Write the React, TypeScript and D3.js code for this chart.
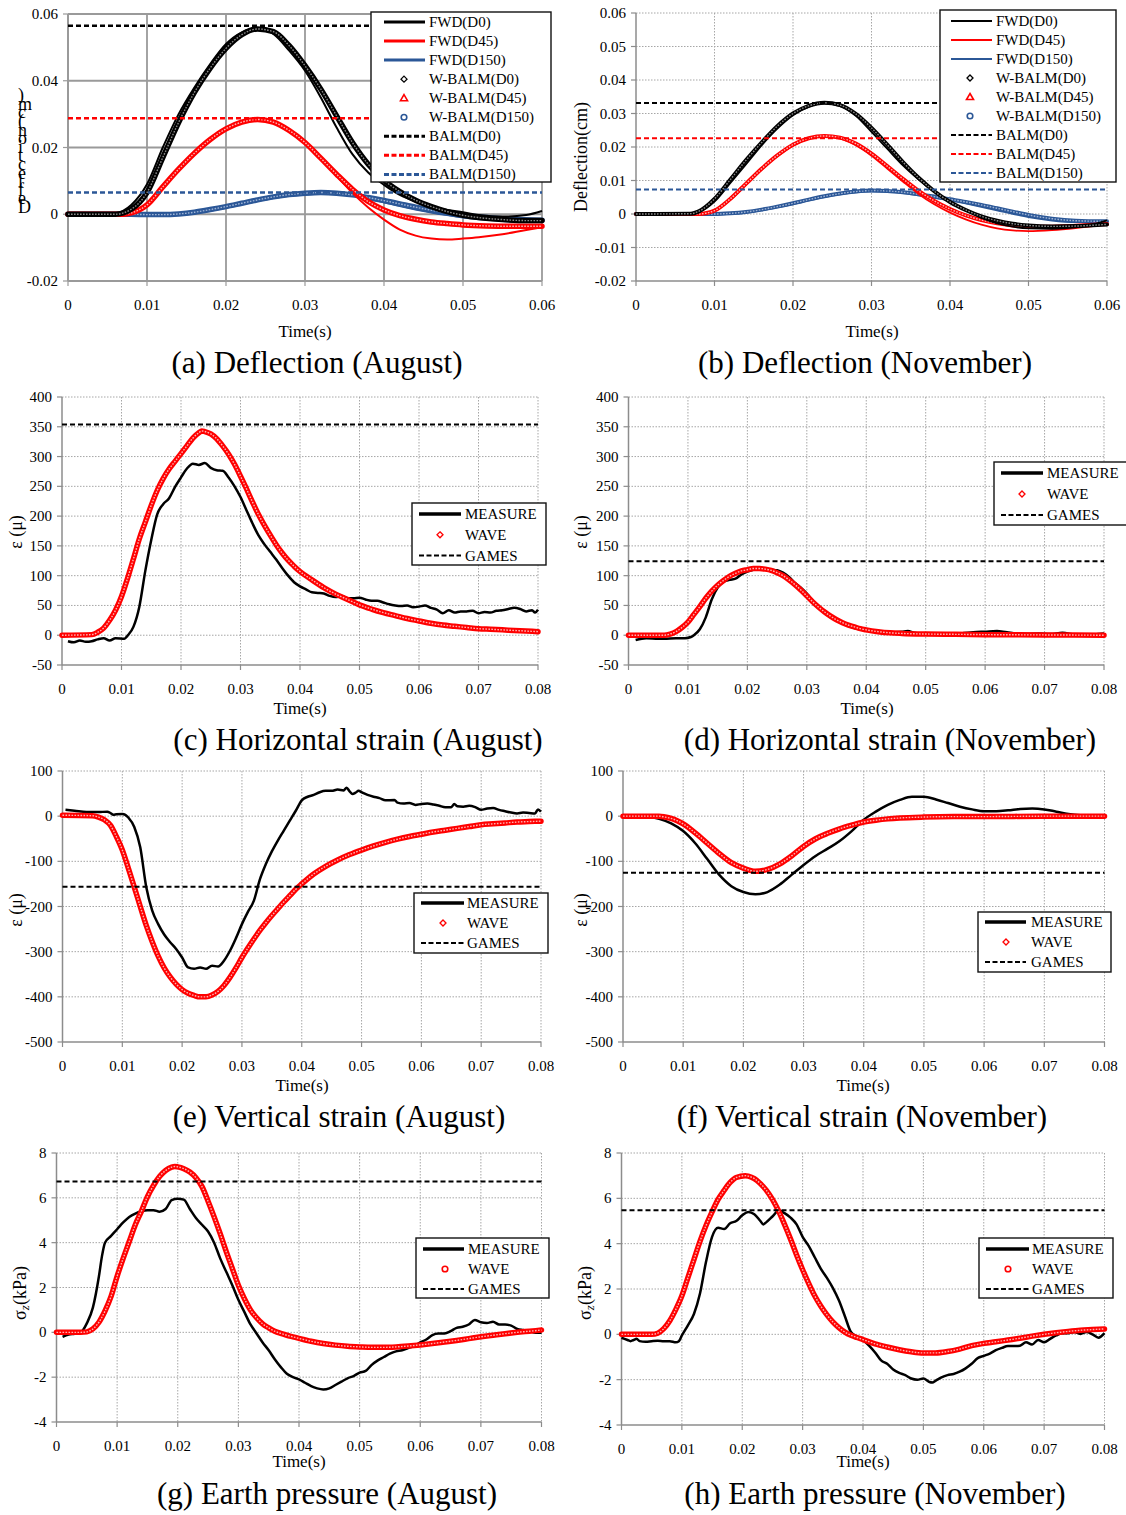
import * as d3 from 'd3';
import React from 'react';

type Pt = [number, number];

const FONT = '"Liberation Serif", "Times New Roman", serif';
const RED = '#ff0000';
const BLUE = '#2b5797';
const GRID = '#a6a6a6';

// ---- (a) deflection, August (cm) ----
const aFwdD0: Pt[] = [[0,0],[0.004,0],[0.006,0.0003],[0.008,0.0028],[0.01,0.009],[0.012,0.02],[0.014,0.03],[0.016,0.038],[0.018,0.045],[0.02,0.051],[0.022,0.0545],[0.0235,0.0556],[0.025,0.0553],[0.026,0.054],[0.028,0.049],[0.03,0.043],[0.032,0.035],[0.034,0.026],[0.036,0.018],[0.038,0.0125],[0.04,0.0088],[0.042,0.0058],[0.044,0.0038],[0.046,0.0023],[0.048,0.0013],[0.05,0.0006],[0.052,-0.0002],[0.055,-0.0007],[0.058,-0.0002],[0.06,0.001]];
const aWbD0: Pt[] = [[0,0],[0.006,0],[0.008,0.0015],[0.01,0.0065],[0.012,0.017],[0.014,0.0275],[0.016,0.0365],[0.018,0.0438],[0.02,0.0497],[0.022,0.0538],[0.024,0.0555],[0.026,0.0547],[0.028,0.0505],[0.03,0.0445],[0.032,0.0375],[0.034,0.0295],[0.036,0.0215],[0.038,0.015],[0.04,0.0102],[0.042,0.0068],[0.044,0.0042],[0.046,0.0023],[0.048,0.0008],[0.05,-0.0003],[0.052,-0.001],[0.055,-0.0016],[0.058,-0.0019],[0.06,-0.0019]];
const aFwdD45: Pt[] = [[0,0],[0.007,0],[0.008,0.0004],[0.01,0.0025],[0.012,0.0085],[0.014,0.0137],[0.016,0.0185],[0.018,0.0225],[0.02,0.0256],[0.022,0.0275],[0.024,0.0282],[0.026,0.0274],[0.028,0.0248],[0.03,0.0212],[0.032,0.0165],[0.034,0.0115],[0.036,0.0064],[0.038,0.002],[0.04,-0.0016],[0.042,-0.0046],[0.044,-0.0064],[0.046,-0.0073],[0.048,-0.0076],[0.05,-0.0073],[0.052,-0.0069],[0.055,-0.006],[0.058,-0.0047],[0.06,-0.0039]];
const aWbD45: Pt[] = [[0,0],[0.007,0],[0.008,0.0004],[0.01,0.0028],[0.012,0.0082],[0.014,0.0135],[0.016,0.0183],[0.018,0.0224],[0.02,0.0256],[0.022,0.0276],[0.024,0.0284],[0.026,0.0276],[0.028,0.0251],[0.03,0.0215],[0.032,0.0168],[0.034,0.012],[0.036,0.0075],[0.038,0.0038],[0.04,0.0013],[0.042,-0.0004],[0.044,-0.0015],[0.046,-0.0023],[0.048,-0.0028],[0.05,-0.0032],[0.053,-0.0035],[0.056,-0.0036],[0.06,-0.0036]];
const aFwdD150: Pt[] = [[0,0],[0.008,0],[0.01,-0.0001],[0.012,-0.0001],[0.014,0],[0.016,0.0004],[0.018,0.0012],[0.02,0.0021],[0.022,0.0031],[0.024,0.0041],[0.026,0.005],[0.028,0.0057],[0.03,0.0061],[0.032,0.0063],[0.034,0.0062],[0.036,0.0057],[0.038,0.0048],[0.04,0.0037],[0.042,0.0026],[0.044,0.0016],[0.046,0.0007],[0.048,-0.0001],[0.05,-0.0008],[0.053,-0.0015],[0.056,-0.002],[0.06,-0.0022]];
const aWbD150: Pt[] = [[0,0],[0.008,0],[0.01,-0.0001],[0.012,-0.0001],[0.014,0.0001],[0.016,0.0006],[0.018,0.0014],[0.02,0.0023],[0.022,0.0033],[0.024,0.0043],[0.026,0.0052],[0.028,0.0059],[0.03,0.0063],[0.032,0.0065],[0.034,0.0063],[0.036,0.0058],[0.038,0.005],[0.04,0.0041],[0.042,0.0031],[0.044,0.0021],[0.046,0.0012],[0.048,0.0004],[0.05,-0.0003],[0.053,-0.001],[0.056,-0.0015],[0.06,-0.0018]];
const aBalm = [0.0565, 0.0288, 0.0065];

// ---- (b) deflection, November (cm) ----
const bFwdD0: Pt[] = [[0,0],[0.007,0],[0.008,0.0005],[0.01,0.0037],[0.012,0.0092],[0.014,0.0148],[0.016,0.0205],[0.018,0.0255],[0.02,0.0295],[0.022,0.032],[0.024,0.033],[0.026,0.0322],[0.028,0.0293],[0.03,0.0245],[0.032,0.0195],[0.034,0.0145],[0.036,0.0103],[0.038,0.0066],[0.04,0.0035],[0.042,0.0011],[0.044,-0.0012],[0.046,-0.0028],[0.048,-0.0038],[0.05,-0.0043],[0.053,-0.0044],[0.056,-0.004],[0.058,-0.0032],[0.06,-0.0019]];
const bWbD0: Pt[] = [[0,0],[0.007,0.0001],[0.008,0.0008],[0.01,0.0045],[0.012,0.0102],[0.014,0.016],[0.016,0.0213],[0.018,0.0262],[0.02,0.03],[0.022,0.0323],[0.024,0.0332],[0.026,0.0325],[0.028,0.0299],[0.03,0.0257],[0.032,0.0207],[0.034,0.0155],[0.036,0.0108],[0.038,0.0068],[0.04,0.0036],[0.042,0.0012],[0.044,-0.0007],[0.046,-0.002],[0.048,-0.0029],[0.05,-0.0034],[0.053,-0.0037],[0.056,-0.0036],[0.06,-0.0031]];
const bFwdD45: Pt[] = [[0,0],[0.008,0],[0.009,0.0003],[0.01,0.0009],[0.012,0.0042],[0.014,0.0087],[0.016,0.0132],[0.018,0.0172],[0.02,0.0204],[0.022,0.0224],[0.024,0.0231],[0.026,0.0225],[0.028,0.0205],[0.03,0.0174],[0.032,0.0136],[0.034,0.0097],[0.036,0.006],[0.038,0.0029],[0.04,0.0004],[0.042,-0.0016],[0.044,-0.0032],[0.046,-0.0043],[0.048,-0.0049],[0.05,-0.0051],[0.053,-0.0048],[0.056,-0.0042],[0.06,-0.0031]];
const bWbD45: Pt[] = [[0,0],[0.008,0],[0.009,0.0003],[0.01,0.001],[0.012,0.0045],[0.014,0.009],[0.016,0.0135],[0.018,0.0175],[0.02,0.0207],[0.022,0.0226],[0.024,0.0233],[0.026,0.0228],[0.028,0.021],[0.03,0.018],[0.032,0.0143],[0.034,0.0105],[0.036,0.0069],[0.038,0.0039],[0.04,0.0015],[0.042,-0.0004],[0.044,-0.0018],[0.046,-0.0028],[0.048,-0.0034],[0.05,-0.0037],[0.053,-0.0038],[0.056,-0.0035],[0.06,-0.003]];
const bFwdD150: Pt[] = [[0,0],[0.01,0],[0.012,0.0002],[0.014,0.0005],[0.016,0.0012],[0.018,0.0021],[0.02,0.0031],[0.022,0.0042],[0.024,0.0052],[0.026,0.006],[0.028,0.0066],[0.03,0.0069],[0.032,0.0068],[0.034,0.0064],[0.036,0.0057],[0.038,0.005],[0.04,0.0042],[0.042,0.0033],[0.044,0.0023],[0.046,0.0012],[0.048,0.0002],[0.05,-0.0008],[0.053,-0.0018],[0.056,-0.0023],[0.06,-0.0024]];
const bWbD150: Pt[] = [[0,0],[0.01,0],[0.012,0.0002],[0.014,0.0006],[0.016,0.0013],[0.018,0.0022],[0.02,0.0032],[0.022,0.0043],[0.024,0.0053],[0.026,0.0061],[0.028,0.0067],[0.03,0.007],[0.032,0.0069],[0.034,0.0065],[0.036,0.0059],[0.038,0.0052],[0.04,0.0044],[0.042,0.0036],[0.044,0.0027],[0.046,0.0017],[0.048,0.0007],[0.05,-0.0003],[0.053,-0.0014],[0.056,-0.002],[0.06,-0.0022]];
const bBalm = [0.0331, 0.0226, 0.0073];

// ---- (c) horizontal strain, August ----
const cMeasure: Pt[] = [[0.001,-10],[0.002,-12],[0.003,-9],[0.004,-11],[0.005,-10],[0.006,-7],[0.007,-5],[0.008,-9],[0.009,-5],[0.0105,-6],[0.011,-1],[0.012,14],[0.013,48],[0.014,108],[0.015,160],[0.016,203],[0.017,220],[0.018,230],[0.019,249],[0.02,265],[0.021,280],[0.022,288],[0.023,286],[0.024,289],[0.025,281],[0.026,277],[0.027,276],[0.028,265],[0.029,250],[0.03,232],[0.031,210],[0.032,188],[0.033,168],[0.034,153],[0.035,140],[0.036,127],[0.037,113],[0.038,100],[0.039,89],[0.04,82],[0.041,77],[0.042,72],[0.043,71],[0.044,70],[0.045,66],[0.046,64],[0.047,66],[0.048,62],[0.049,62],[0.05,63],[0.051,60],[0.052,58],[0.053,58],[0.054,55],[0.055,52],[0.056,50],[0.057,49],[0.058,50],[0.059,47],[0.06,48],[0.061,50],[0.062,46],[0.063,43],[0.064,37],[0.065,42],[0.066,38],[0.067,40],[0.068,40],[0.069,41],[0.07,37],[0.071,39],[0.072,38],[0.073,41],[0.074,42],[0.075,44],[0.076,46],[0.077,44],[0.078,40],[0.079,42],[0.0795,38],[0.08,43]];
const cWave: Pt[] = [[0,0],[0.005,1],[0.006,5],[0.007,12],[0.008,25],[0.009,42],[0.01,65],[0.011,95],[0.012,128],[0.013,162],[0.014,190],[0.015,218],[0.016,243],[0.017,263],[0.018,279],[0.019,292],[0.02,305],[0.021,318],[0.022,331],[0.023,340],[0.0235,343],[0.024,342],[0.025,338],[0.026,330],[0.027,318],[0.028,304],[0.029,287],[0.03,267],[0.031,246],[0.032,224],[0.033,203],[0.034,185],[0.035,168],[0.036,152],[0.037,138],[0.038,126],[0.039,116],[0.04,107],[0.042,93],[0.044,80],[0.046,69],[0.048,60],[0.05,51],[0.052,44],[0.054,38],[0.056,33],[0.058,28],[0.06,24],[0.062,20],[0.064,17],[0.066,15],[0.068,13],[0.07,11],[0.072,10],[0.074,9],[0.076,8],[0.078,7],[0.08,6]];
const cGames = 354;

// ---- (d) horizontal strain, November ----
const dMeasure: Pt[] = [[0.0012,-8],[0.003,-5],[0.005,-6],[0.006,-6],[0.008,-5],[0.0095,-5],[0.0105,-3],[0.011,0],[0.012,10],[0.013,30],[0.014,60],[0.015,80],[0.016,90],[0.017,93],[0.018,95],[0.019,102],[0.02,107],[0.021,110],[0.022,112],[0.023,112],[0.024,110],[0.025,109],[0.026,105],[0.027,98],[0.028,88],[0.029,80],[0.03,70],[0.031,58],[0.032,47],[0.033,38],[0.034,30],[0.035,25],[0.036,20],[0.037,16],[0.038,12],[0.039,10],[0.04,8],[0.042,6],[0.044,5],[0.046,6],[0.047,7],[0.048,4],[0.05,2],[0.052,3],[0.054,2],[0.056,3],[0.058,5],[0.06,6],[0.062,7],[0.063,6],[0.065,3],[0.067,2],[0.069,3],[0.071,2],[0.073,4],[0.075,1],[0.077,0],[0.079,2],[0.08,3]];
const dWave: Pt[] = [[0,0],[0.006,0],[0.007,2],[0.008,6],[0.009,13],[0.01,22],[0.011,35],[0.012,48],[0.013,62],[0.014,74],[0.015,84],[0.016,92],[0.017,99],[0.018,104],[0.019,108],[0.02,110],[0.021,112],[0.022,112],[0.023,111],[0.024,109],[0.025,105],[0.026,100],[0.027,93],[0.028,85],[0.029,76],[0.03,66],[0.031,56],[0.032,47],[0.033,39],[0.034,32],[0.035,26],[0.036,21],[0.037,17],[0.038,14],[0.039,11],[0.04,9],[0.042,6],[0.044,4],[0.046,3],[0.05,2],[0.055,1.5],[0.06,1],[0.07,0.5],[0.08,0]];
const dGames = 124;

// ---- (e) vertical strain, August ----
const eMeasure: Pt[] = [[0.0005,14],[0.002,12],[0.004,9],[0.006,9],[0.0075,10],[0.008,7],[0.0085,3],[0.009,4],[0.01,5],[0.0105,3],[0.011,-3],[0.012,-24],[0.013,-69],[0.014,-157],[0.015,-209],[0.016,-239],[0.017,-262],[0.018,-279],[0.019,-294],[0.02,-313],[0.021,-335],[0.022,-338],[0.023,-335],[0.024,-338],[0.025,-331],[0.026,-333],[0.027,-320],[0.028,-298],[0.029,-270],[0.03,-239],[0.031,-212],[0.032,-187],[0.033,-140],[0.034,-106],[0.035,-78],[0.036,-54],[0.037,-32],[0.038,-10],[0.039,12],[0.04,35],[0.041,43],[0.042,47],[0.043,53],[0.044,56],[0.045,56],[0.046,59],[0.047,57],[0.0475,63],[0.048,55],[0.0485,49],[0.049,52],[0.0495,56],[0.05,53],[0.051,47],[0.052,43],[0.053,40],[0.054,35],[0.0555,36],[0.056,30],[0.057,28],[0.058,29],[0.059,25],[0.06,27],[0.061,28],[0.062,26],[0.063,23],[0.064,20],[0.065,20],[0.0655,27],[0.066,22],[0.067,21],[0.068,23],[0.069,20],[0.07,14],[0.071,17],[0.072,18],[0.073,14],[0.074,11],[0.075,8],[0.076,6],[0.077,8],[0.078,7],[0.079,6],[0.0795,15],[0.08,10]];
const eWave: Pt[] = [[0,2],[0.005,1],[0.006,-2],[0.007,-8],[0.008,-20],[0.009,-45],[0.01,-75],[0.011,-115],[0.012,-157],[0.013,-200],[0.014,-242],[0.015,-278],[0.016,-310],[0.017,-336],[0.018,-356],[0.019,-372],[0.02,-384],[0.021,-392],[0.022,-397],[0.023,-400],[0.024,-400],[0.025,-396],[0.026,-388],[0.027,-375],[0.028,-357],[0.029,-336],[0.03,-313],[0.031,-292],[0.032,-272],[0.033,-253],[0.034,-236],[0.035,-220],[0.036,-205],[0.037,-190],[0.038,-176],[0.039,-162],[0.04,-150],[0.042,-128],[0.044,-111],[0.046,-97],[0.048,-85],[0.05,-75],[0.052,-66],[0.054,-58],[0.056,-51],[0.058,-45],[0.06,-40],[0.062,-35],[0.064,-31],[0.066,-27],[0.068,-23],[0.07,-19],[0.072,-17],[0.074,-15],[0.076,-13],[0.078,-12],[0.08,-11]];
const eGames = -156;

// ---- (f) vertical strain, November ----
const fMeasure: Pt[] = [[0,0],[0.004,-1],[0.006,-6],[0.008,-16],[0.01,-33],[0.012,-60],[0.014,-95],[0.016,-130],[0.018,-155],[0.02,-168],[0.022,-173],[0.024,-168],[0.026,-152],[0.028,-130],[0.03,-108],[0.032,-88],[0.034,-72],[0.036,-55],[0.038,-33],[0.04,-8],[0.042,10],[0.044,25],[0.046,36],[0.048,43],[0.05,43],[0.052,37],[0.054,29],[0.056,21],[0.058,15],[0.06,11],[0.062,11],[0.064,13],[0.066,16],[0.068,17],[0.07,15],[0.072,10],[0.074,5],[0.076,2],[0.078,1],[0.08,2]];
const fWave: Pt[] = [[0,0],[0.006,0],[0.007,-2],[0.008,-5],[0.009,-10],[0.01,-17],[0.012,-37],[0.014,-60],[0.016,-83],[0.018,-103],[0.02,-115],[0.022,-122],[0.024,-118],[0.026,-106],[0.028,-88],[0.03,-67],[0.032,-50],[0.034,-38],[0.036,-28],[0.038,-20],[0.04,-13],[0.042,-9],[0.044,-6],[0.046,-4],[0.05,-2],[0.055,-1],[0.06,-1],[0.07,0],[0.08,0]];
const fGames = -125;

// ---- (g) earth pressure, August (kPa) ----
const gMeasure: Pt[] = [[0.001,-0.2],[0.002,-0.1],[0.003,-0.06],[0.004,0],[0.005,0.4],[0.006,1.1],[0.007,2.5],[0.0075,3.4],[0.008,4.0],[0.009,4.3],[0.01,4.6],[0.011,4.9],[0.012,5.15],[0.013,5.3],[0.014,5.4],[0.015,5.45],[0.016,5.45],[0.017,5.38],[0.018,5.5],[0.019,5.9],[0.02,5.96],[0.021,5.92],[0.022,5.5],[0.023,5.1],[0.024,4.8],[0.025,4.5],[0.026,4.0],[0.027,3.3],[0.028,2.7],[0.029,2.1],[0.03,1.45],[0.031,0.9],[0.032,0.35],[0.033,-0.05],[0.034,-0.45],[0.035,-0.8],[0.036,-1.2],[0.037,-1.55],[0.038,-1.85],[0.039,-2.0],[0.04,-2.1],[0.041,-2.25],[0.042,-2.4],[0.043,-2.5],[0.044,-2.55],[0.045,-2.5],[0.046,-2.35],[0.047,-2.2],[0.048,-2.05],[0.049,-1.95],[0.05,-1.8],[0.051,-1.72],[0.052,-1.45],[0.053,-1.25],[0.054,-1.1],[0.055,-0.95],[0.056,-0.85],[0.057,-0.8],[0.058,-0.7],[0.059,-0.62],[0.06,-0.45],[0.061,-0.32],[0.062,-0.12],[0.063,-0.05],[0.064,-0.05],[0.065,0.05],[0.066,0.2],[0.067,0.25],[0.068,0.35],[0.069,0.55],[0.07,0.45],[0.071,0.42],[0.072,0.47],[0.073,0.35],[0.074,0.35],[0.075,0.3],[0.076,0.15],[0.077,0.1],[0.078,0.05],[0.079,-0.02],[0.08,-0.02]];
const gWave: Pt[] = [[0,0],[0.004,0],[0.005,0.02],[0.006,0.15],[0.007,0.45],[0.008,0.95],[0.009,1.6],[0.01,2.5],[0.011,3.3],[0.012,4.05],[0.013,4.8],[0.014,5.4],[0.015,6.05],[0.016,6.55],[0.017,6.95],[0.018,7.22],[0.019,7.37],[0.0195,7.4],[0.02,7.38],[0.021,7.3],[0.022,7.15],[0.023,6.9],[0.024,6.5],[0.025,5.85],[0.026,5.15],[0.027,4.4],[0.028,3.6],[0.029,2.85],[0.03,2.1],[0.031,1.5],[0.032,1.0],[0.033,0.65],[0.034,0.38],[0.035,0.2],[0.036,0.05],[0.037,-0.05],[0.038,-0.13],[0.039,-0.2],[0.04,-0.27],[0.042,-0.4],[0.044,-0.5],[0.046,-0.57],[0.048,-0.62],[0.05,-0.65],[0.052,-0.67],[0.054,-0.67],[0.056,-0.65],[0.058,-0.61],[0.06,-0.56],[0.062,-0.5],[0.064,-0.43],[0.066,-0.36],[0.068,-0.28],[0.07,-0.2],[0.072,-0.13],[0.074,-0.06],[0.076,0],[0.078,0.05],[0.08,0.1]];
const gGames = 6.73;

// ---- (h) earth pressure, November (kPa) ----
const hMeasure: Pt[] = [[0,-0.15],[0.001,-0.25],[0.0015,-0.3],[0.002,-0.25],[0.0025,-0.2],[0.003,-0.3],[0.004,-0.33],[0.005,-0.3],[0.006,-0.28],[0.007,-0.3],[0.008,-0.3],[0.009,-0.35],[0.0095,-0.3],[0.01,-0.05],[0.011,0.4],[0.012,0.9],[0.013,1.8],[0.014,3.2],[0.015,4.3],[0.016,4.7],[0.017,4.65],[0.018,4.9],[0.019,5.0],[0.02,5.25],[0.021,5.4],[0.022,5.3],[0.023,5.0],[0.0235,4.85],[0.024,4.95],[0.025,5.2],[0.026,5.45],[0.027,5.35],[0.028,5.15],[0.029,4.85],[0.03,4.3],[0.031,3.9],[0.032,3.4],[0.033,2.9],[0.034,2.5],[0.035,2.05],[0.036,1.5],[0.037,0.8],[0.038,0.1],[0.039,-0.1],[0.04,-0.25],[0.041,-0.5],[0.042,-0.8],[0.043,-1.15],[0.044,-1.3],[0.045,-1.55],[0.046,-1.7],[0.047,-1.8],[0.048,-1.95],[0.049,-2.0],[0.05,-1.95],[0.051,-2.1],[0.0515,-2.12],[0.052,-2.05],[0.053,-1.9],[0.054,-1.8],[0.055,-1.75],[0.056,-1.65],[0.057,-1.5],[0.058,-1.3],[0.059,-1.05],[0.06,-0.95],[0.061,-0.85],[0.062,-0.7],[0.063,-0.6],[0.064,-0.52],[0.065,-0.52],[0.066,-0.5],[0.067,-0.35],[0.068,-0.45],[0.069,-0.25],[0.07,-0.35],[0.071,-0.2],[0.072,-0.05],[0.073,0.05],[0.074,0.05],[0.075,0.1],[0.076,0.02],[0.077,0.1],[0.078,0],[0.079,-0.15],[0.08,0.05]];
const hWave: Pt[] = [[0,0],[0.005,0],[0.006,0.05],[0.007,0.25],[0.008,0.6],[0.009,1.1],[0.01,1.7],[0.011,2.5],[0.012,3.3],[0.013,4.1],[0.014,4.8],[0.015,5.4],[0.016,5.95],[0.017,6.35],[0.018,6.7],[0.019,6.92],[0.0205,7.0],[0.021,6.98],[0.022,6.87],[0.023,6.65],[0.024,6.35],[0.025,5.95],[0.026,5.45],[0.027,4.85],[0.028,4.2],[0.029,3.5],[0.03,2.85],[0.031,2.25],[0.032,1.7],[0.033,1.25],[0.034,0.87],[0.035,0.55],[0.036,0.3],[0.037,0.1],[0.038,-0.04],[0.039,-0.14],[0.04,-0.23],[0.042,-0.42],[0.044,-0.56],[0.046,-0.68],[0.048,-0.77],[0.05,-0.82],[0.052,-0.82],[0.054,-0.76],[0.056,-0.65],[0.058,-0.5],[0.06,-0.4],[0.062,-0.33],[0.064,-0.25],[0.066,-0.17],[0.068,-0.08],[0.07,0],[0.072,0.07],[0.074,0.13],[0.076,0.18],[0.078,0.21],[0.08,0.24]];
const hGames = 5.47;

const defLabels = ['FWD(D0)', 'FWD(D45)', 'FWD(D150)', 'W-BALM(D0)', 'W-BALM(D45)', 'W-BALM(D150)', 'BALM(D0)', 'BALM(D45)', 'BALM(D150)'];
const strainLabels = ['MEASURE', 'WAVE', 'GAMES'];

type Series = { data?: Pt[]; level?: number; type: 'line' | 'band' | 'dash'; color: string; w: number; inner?: string };
type LegItem = { label: string; type: 'line' | 'marker' | 'dash'; color: string; marker?: string; w?: number };

const f2 = (d: number) => (Math.abs(d) < 1e-9 ? '0' : d.toFixed(2));
const fInt = (d: number) => String(Math.round(d * 100) / 100);

const defLegend = (lw: number): LegItem[] => [
  { label: defLabels[0], type: 'line', color: '#000', w: lw },
  { label: defLabels[1], type: 'line', color: RED, w: lw },
  { label: defLabels[2], type: 'line', color: BLUE, w: lw },
  { label: defLabels[3], type: 'marker', color: '#000', marker: 'diamond' },
  { label: defLabels[4], type: 'marker', color: RED, marker: 'triangle' },
  { label: defLabels[5], type: 'marker', color: BLUE, marker: 'circle' },
  { label: defLabels[6], type: 'dash', color: '#000', w: lw },
  { label: defLabels[7], type: 'dash', color: RED, w: lw },
  { label: defLabels[8], type: 'dash', color: BLUE, w: lw },
];
const strainLegend = (mk: string): LegItem[] => [
  { label: strainLabels[0], type: 'line', color: '#000', w: 3.5 },
  { label: strainLabels[1], type: 'marker', color: RED, marker: mk },
  { label: strainLabels[2], type: 'dash', color: '#000', w: 2 },
];

const defSeries = (fw: Pt[][], wb: Pt[][], balm: number[], lw: number, bw: number, dw: number): Series[] => [
  { data: fw[2], type: 'line', color: BLUE, w: lw + 1 },
  { data: wb[2], type: 'band', color: BLUE, w: bw, inner: '#9fb4d6' },
  { data: fw[1], type: 'line', color: RED, w: lw },
  { data: wb[1], type: 'band', color: RED, w: bw, inner: '#ffb0b0' },
  { data: fw[0], type: 'line', color: '#000', w: lw },
  { data: wb[0], type: 'band', color: '#000', w: bw, inner: '#8a8a8a' },
  { level: balm[0], type: 'dash', color: '#000', w: dw },
  { level: balm[1], type: 'dash', color: RED, w: dw },
  { level: balm[2], type: 'dash', color: BLUE, w: dw },
];
const strainSeries = (m: Pt[], wv: Pt[], g: number): Series[] => [
  { data: m, type: 'line', color: '#000', w: 2.5 },
  { data: wv, type: 'band', color: RED, w: 5.5, inner: '#ffb3b3' },
  { level: g, type: 'dash', color: '#000', w: 2 },
];

const panels = [
  { id: 'a', left: 68, right: 542, top: 14, bottom: 281, xMax: 0.06, yDom: [-0.02, 0.06], yStep: 0.02, fmt: f2, solid: true,
    series: defSeries([aFwdD0, aFwdD45, aFwdD150], [aWbD0, aWbD45, aWbD150], aBalm, 2, 5.5, 2.5),
    legend: { x: 371, y: 12, w: 180, h: 170, row0: 22, step: 19.05, l1: 384, l2: 425, tx: 429, mx: 404, items: defLegend(3) },
    xlab: [305, 337], ylab: { kind: 'stack', x: 18, y: 213, text: 'Deflection(cm)' }, cap: ['(a) Deflection (August)', 317, 373] },
  { id: 'b', left: 636, right: 1107, top: 13, bottom: 281, xMax: 0.06, yDom: [-0.02, 0.06], yStep: 0.01, fmt: f2, solid: false,
    series: defSeries([bFwdD0, bFwdD45, bFwdD150], [bWbD0, bWbD45, bWbD150], bBalm, 1.8, 4, 2),
    legend: { x: 940, y: 10, w: 176, h: 172, row0: 21, step: 19, l1: 951, l2: 992, tx: 996, mx: 970, items: defLegend(2.2) },
    xlab: [872, 337], ylab: { kind: 'rot', x: 581, y: 157, text: 'Deflection(cm)' }, cap: ['(b) Deflection (November)', 865, 373] },
  { id: 'c', left: 62, right: 538, top: 397, bottom: 665, xMax: 0.08, yDom: [-50, 400], yStep: 50, fmt: fInt, solid: false,
    series: strainSeries(cMeasure, cWave, cGames),
    legend: { x: 412, y: 503, w: 134, h: 62, row0: 514, step: 20.8, l1: 419, l2: 461, tx: 465, mx: 440, items: strainLegend('diamond') },
    xlab: [300, 714], ylab: { kind: 'rot', x: 16, y: 532, text: 'ε (μ)' }, cap: ['(c) Horizontal strain (August)', 358, 750] },
  { id: 'd', left: 628.5, right: 1104, top: 397, bottom: 665, xMax: 0.08, yDom: [-50, 400], yStep: 50, fmt: fInt, solid: false,
    series: strainSeries(dMeasure, dWave, dGames),
    legend: { x: 994, y: 462, w: 140, h: 63, row0: 473, step: 21, l1: 1001, l2: 1043, tx: 1047, mx: 1022, items: strainLegend('diamond') },
    xlab: [867, 714], ylab: { kind: 'rot', x: 581, y: 532, text: 'ε (μ)' }, cap: ['(d) Horizontal strain (November)', 890, 750] },
  { id: 'e', left: 62.5, right: 541, top: 771, bottom: 1042, xMax: 0.08, yDom: [-500, 100], yStep: 100, fmt: fInt, solid: false,
    series: strainSeries(eMeasure, eWave, eGames),
    legend: { x: 414, y: 893, w: 134, h: 60, row0: 903, step: 20, l1: 421, l2: 464, tx: 467, mx: 443, items: strainLegend('diamond') },
    xlab: [302, 1091], ylab: { kind: 'rot', x: 16, y: 910, text: 'ε (μ)' }, cap: ['(e) Vertical strain (August)', 339, 1127] },
  { id: 'f', left: 623, right: 1104.5, top: 771, bottom: 1042, xMax: 0.08, yDom: [-500, 100], yStep: 100, fmt: fInt, solid: false,
    series: strainSeries(fMeasure, fWave, fGames),
    legend: { x: 978, y: 912, w: 133, h: 60, row0: 922, step: 20, l1: 985, l2: 1026, tx: 1031, mx: 1006, items: strainLegend('diamond') },
    xlab: [863, 1091], ylab: { kind: 'rot', x: 581, y: 910, text: 'ε (μ)' }, cap: ['(f) Vertical strain (November)', 862, 1127] },
  { id: 'g', left: 56.5, right: 541.5, top: 1153, bottom: 1422, xMax: 0.08, yDom: [-4, 8], yStep: 2, fmt: fInt, solid: false,
    series: strainSeries(gMeasure, gWave, gGames),
    legend: { x: 416, y: 1238, w: 133, h: 60, row0: 1249, step: 20, l1: 423, l2: 464, tx: 468, mx: 445, items: strainLegend('circle') },
    xlab: [299, 1467], ylab: { kind: 'sigma', x: 20, y: 1293, text: '' }, cap: ['(g) Earth pressure (August)', 327, 1504] },
  { id: 'h', left: 621.5, right: 1104.5, top: 1153, bottom: 1425, xMax: 0.08, yDom: [-4, 8], yStep: 2, fmt: fInt, solid: false,
    series: strainSeries(hMeasure, hWave, hGames),
    legend: { x: 979, y: 1238, w: 134, h: 60, row0: 1249, step: 20, l1: 986, l2: 1029, tx: 1032, mx: 1008, items: strainLegend('circle') },
    xlab: [863, 1467], ylab: { kind: 'sigma', x: 585, y: 1293, text: '' }, cap: ['(h) Earth pressure (November)', 875, 1504] },
];

function Marker({ kind, x, y, color }: { kind?: string; x: number; y: number; color: string }) {
  if (kind === 'diamond')
    return <path d={`M${x},${y - 3} L${x + 3},${y} L${x},${y + 3} L${x - 3},${y} Z`} fill="#fff" stroke={color} strokeWidth={1.3} />;
  if (kind === 'triangle')
    return <path d={`M${x},${y - 3.5} L${x + 3.5},${y + 2.5} L${x - 3.5},${y + 2.5} Z`} fill="#fff" stroke={color} strokeWidth={1.6} />;
  return <circle cx={x} cy={y} r={2.8} fill="#fff" stroke={color} strokeWidth={1.6} />;
}

function YLabel({ yl }: { yl: any }) {
  if (yl.kind === 'stack') {
    // the source renders this label as upright letters stacked bottom to top
    const chars = yl.text.split('');
    return (
      <g fontSize={18}>
        {chars.map((c: string, i: number) => (
          <text key={i} x={yl.x} y={yl.y - i * 8.6}>{c}</text>
        ))}
      </g>
    );
  }
  if (yl.kind === 'sigma') {
    return (
      <text transform={`translate(${yl.x},${yl.y}) rotate(-90)`} textAnchor="middle" dominantBaseline="central" fontSize={18}>
        σ<tspan fontSize={13} fontStyle="italic" dy={4}>z</tspan><tspan dy={-4}>(kPa)</tspan>
      </text>
    );
  }
  return (
    <text transform={`translate(${yl.x},${yl.y}) rotate(-90)`} textAnchor="middle" dominantBaseline="central" fontSize={18}>
      {yl.text}
    </text>
  );
}

function Panel({ p }: { p: any }) {
  const x = d3.scaleLinear().domain([0, p.xMax]).range([p.left, p.right]);
  const y = d3.scaleLinear().domain(p.yDom).range([p.bottom, p.top]);
  const line = d3.line<Pt>().x(d => x(d[0])).y(d => y(d[1])).curve(d3.curveMonotoneX);
  const xTicks = d3.range(0, Math.round(p.xMax / 0.01) + 1).map(i => i * 0.01);
  const yTicks = d3.range(0, Math.round((p.yDom[1] - p.yDom[0]) / p.yStep) + 1).map(i => p.yDom[0] + i * p.yStep);
  const gridProps = p.solid
    ? { stroke: '#9a9a9a', strokeWidth: 1.8 }
    : { stroke: GRID, strokeWidth: 1, strokeDasharray: '1.5,1.5' };
  const axisColor = p.solid ? '#9a9a9a' : '#8c8c8c';
  const lg = p.legend;

  return (
    <g>
      {/* grid */}
      {xTicks.slice(1).map((t: number) => (
        <line key={'gx' + t} x1={x(t)} x2={x(t)} y1={p.top} y2={p.bottom} {...gridProps} />
      ))}
      {yTicks.slice(1).map((v: number) => (
        <line key={'gy' + v} x1={p.left} x2={p.right} y1={y(v)} y2={y(v)} {...gridProps} />
      ))}
      {/* axes */}
      <line x1={p.left} x2={p.left} y1={p.top} y2={p.bottom} stroke={axisColor} strokeWidth={p.solid ? 2 : 1.5} />
      <line x1={p.left} x2={p.right} y1={p.bottom} y2={p.bottom} stroke={axisColor} strokeWidth={p.solid ? 2 : 1.5} />
      {xTicks.map((t: number) => (
        <g key={'tx' + t}>
          <line x1={x(t)} x2={x(t)} y1={p.bottom} y2={p.bottom + 5} stroke={axisColor} strokeWidth={1.2} />
          <text x={x(t)} y={p.bottom + 29} textAnchor="middle" fontSize={15}>{f2(t)}</text>
        </g>
      ))}
      {yTicks.map((v: number) => (
        <g key={'ty' + v}>
          <line x1={p.left - 5} x2={p.left} y1={y(v)} y2={y(v)} stroke={axisColor} strokeWidth={1.2} />
          <text x={p.left - 10} y={y(v)} textAnchor="end" dominantBaseline="central" fontSize={15}>{p.fmt(v)}</text>
        </g>
      ))}

      {/* series */}
      {p.series.map((s: Series, i: number) => {
        if (s.type === 'dash') {
          const pts: Pt[] = [[0, s.level as number], [p.xMax, s.level as number]];
          return <path key={i} d={d3.line<Pt>().x(d => x(d[0])).y(d => y(d[1]))(pts) || ''} fill="none" stroke={s.color} strokeWidth={s.w} strokeDasharray="5,3" />;
        }
        const d = line(s.data as Pt[]) || '';
        if (s.type === 'band') {
          return (
            <g key={i}>
              <path d={d} fill="none" stroke={s.color} strokeWidth={s.w} strokeLinejoin="round" strokeLinecap="round" />
              <path d={d} fill="none" stroke={s.inner} strokeWidth={1.4} strokeDasharray="1.6,1.4" />
            </g>
          );
        }
        return <path key={i} d={d} fill="none" stroke={s.color} strokeWidth={s.w} strokeLinejoin="round" />;
      })}

      {/* legend */}
      <rect x={lg.x} y={lg.y} width={lg.w} height={lg.h} fill="#fff" stroke="#111" strokeWidth={1.4} />
      {lg.items.map((it: LegItem, i: number) => {
        const ry = lg.row0 + i * lg.step;
        return (
          <g key={'lg' + i}>
            {it.type === 'line' && <line x1={lg.l1} x2={lg.l2} y1={ry} y2={ry} stroke={it.color} strokeWidth={it.w} />}
            {it.type === 'dash' && <line x1={lg.l1} x2={lg.l2} y1={ry} y2={ry} stroke={it.color} strokeWidth={it.w} strokeDasharray="5,2.5" />}
            {it.type === 'marker' && <Marker kind={it.marker} x={lg.mx} y={ry} color={it.color} />}
            <text x={lg.tx} y={ry} dominantBaseline="central" fontSize={15}>{it.label}</text>
          </g>
        );
      })}

      {/* labels */}
      <text x={p.xlab[0]} y={p.xlab[1]} textAnchor="middle" fontSize={17}>Time(s)</text>
      <YLabel yl={p.ylab} />
      <text x={p.cap[1]} y={p.cap[2]} textAnchor="middle" fontSize={31}>{p.cap[0]}</text>
    </g>
  );
}

export default function App() {
  return (
    <svg width={1126} height={1515} fontFamily={FONT} style={{ position: 'absolute', left: 0, top: 0, background: '#fff' }}>
      {panels.map(p => <Panel key={p.id} p={p} />)}
    </svg>
  );
}
